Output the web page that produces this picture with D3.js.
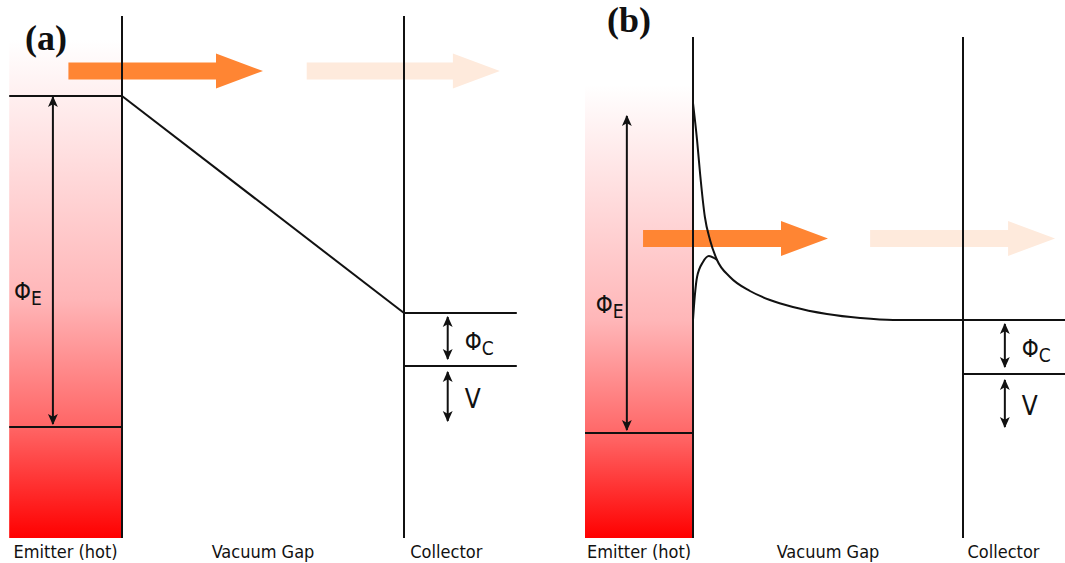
<html>
<head>
	<script src="https://d3js.org/d3.v7.min.js"></script>
	<style>
		body { margin: 0; background: #fff; }
		text { font-family: "DejaVu Sans Condensed", "DejaVu Sans", sans-serif; fill: #111; }
	</style>
</head>
<body>
	<div id="chart"></div>
</body>
<script>
var panelNames = ["(a)", "(b)"]
var regionNames = ["Emitter (hot)", "Vacuum Gap", "Collector"]
var regionPos = [-0.2, 0.5, 1.15]   // position across the device, 0 = emitter surface, 1 = collector

// energies (eV) above the emitter Fermi level
var phiE = [3.31, 3.18]
var phiC = [0.53, 0.54]
var biasV = [0.61, 0.59]

// vacuum level in the gap
var vacuumA = [[0, 3.31], [1, 1.14]]
var vacuumB = [[0, 3.30], [0.015, 2.93], [0.026, 2.60], [0.044, 2.16], [0.063, 1.93], [0.089, 1.73],
	[0.137, 1.56], [0.211, 1.42], [0.285, 1.33], [0.370, 1.26], [0.496, 1.19], [0.619, 1.15],
	[0.741, 1.13], [1.0, 1.13], [1.38, 1.13]]
// space-charge / image barrier near the emitter
var barrierB = [[0, 1.13], [0.007, 1.38], [0.015, 1.56], [0.037, 1.71], [0.059, 1.77], [0.078, 1.75], [0.089, 1.73]]

// electron flow arrows: start, end, energy
var beamsA = [[-0.19, 0.5, 3.56], [0.655, 1.34, 3.56]]
var beamsB = [[-0.185, 0.5, 1.945], [0.656, 1.341, 1.945]]

var vacuum = [vacuumA, vacuumB]
var beams = [beamsA, beamsB]

var layout = [
	{x0: 122, x1: 404, fermiY: 427, top: 16, gradTop: 40, right: 1.4, titleX: 25, titleY: 50, phiEdx: -39, phiEy: 1.27},
	{x0: 693, x1: 963, fermiY: 433, top: 37, gradTop: 85, right: 1.38, titleX: 607, titleY: 32, phiEdx: -31, phiEy: 1.2}
]
var bottom = 538

var svg = d3.select("#chart").append("svg")
	.attr("width", 1065)
	.attr("height", 563)
	.style("background", "#fff")

var defs = svg.append("defs")

defs.append("marker")
	.attr("id", "tip")
	.attr("viewBox", "0 -5 10 10")
	.attr("refX", 9)
	.attr("refY", 0)
	.attr("markerWidth", 11)
	.attr("markerHeight", 11)
	.attr("markerUnits", "userSpaceOnUse")
	.attr("orient", "auto-start-reverse")
	.append("path")
	.attr("d", "M0,-4.5L10,0L0,4.5L2.5,0Z")
	.style("fill", "#111")

function beamPath(x0, x1, yc) {
	var s = 8.5, h = 17.5, hl = 47
	return "M" + x0 + "," + (yc - s) + "H" + (x1 - hl) + "V" + (yc - h) + "L" + x1 + "," + yc +
		"L" + (x1 - hl) + "," + (yc + h) + "V" + (yc + s) + "H" + x0 + "Z"
}

function hline(g, xa, xb, yy) {
	g.append("line")
		.attr("x1", xa).attr("x2", xb)
		.attr("y1", yy).attr("y2", yy)
		.style("stroke", "#111")
		.style("stroke-width", 2)
}

function dblArrow(g, xx, ya, yb) {
	g.append("line")
		.attr("x1", xx).attr("x2", xx)
		.attr("y1", ya).attr("y2", yb)
		.attr("marker-start", "url(#tip)")
		.attr("marker-end", "url(#tip)")
		.style("stroke", "#111")
		.style("stroke-width", 2)
}

function phiLabel(g, xx, yy, sub) {
	var t = g.append("text").attr("x", xx).attr("y", yy)
	t.append("tspan").style("font-size", "24px").text("\u03A6")
	t.append("tspan").style("font-size", "19px").attr("dy", 5).text(sub)
}

layout.forEach(function(L, i) {
	var x = d3.scaleLinear().domain([0, 1]).range([L.x0, L.x1])
	var y = d3.scaleLinear().domain([0, 1]).range([L.fermiY, L.fermiY - 100])
	var g = svg.append("g")

	var grad = defs.append("linearGradient")
		.attr("id", "grad" + i)
		.attr("gradientUnits", "userSpaceOnUse")
		.attr("x1", 0).attr("x2", 0)
		.attr("y1", L.gradTop).attr("y2", bottom)
	grad.append("stop").attr("offset", 0).attr("stop-color", "#ffffff")
	grad.append("stop").attr("offset", 0.52).attr("stop-color", "#ffb6b8")
	grad.append("stop").attr("offset", 0.78).attr("stop-color", "#ff6464")
	grad.append("stop").attr("offset", 1).attr("stop-color", "#ff0000")

	// emitter body
	g.append("rect")
		.attr("x", x(-0.4))
		.attr("y", L.gradTop)
		.attr("width", x(0) - x(-0.4))
		.attr("height", bottom - L.gradTop)
		.style("fill", "url(#grad" + i + ")")

	// electron flow
	g.selectAll(".beam")
		.data(beams[i])
		.enter()
		.append("path")
		.attr("class", "beam")
		.attr("d", function(d) { return beamPath(x(d[0]), x(d[1]), y(d[2])) })
		.style("fill", function(d, j) { return j == 0 ? "#ff8533" : "#feeadc" })

	// emitter Fermi level, and vacuum level in panel a
	hline(g, x(-0.4), x(0), y(0))
	if (i == 0) hline(g, x(-0.4), x(0), y(phiE[i]))

	// electrode surfaces
	g.selectAll(".wall")
		.data([0, 1])
		.enter()
		.append("line")
		.attr("class", "wall")
		.attr("x1", function(d) { return x(d) })
		.attr("x2", function(d) { return x(d) })
		.attr("y1", L.top)
		.attr("y2", bottom)
		.style("stroke", "#111")
		.style("stroke-width", 2)

	// vacuum level
	var line = d3.line()
		.x(function(d) { return x(d[0]) })
		.y(function(d) { return y(d[1]) })
		.curve(i == 0 ? d3.curveLinear : d3.curveMonotoneX)
	g.append("path")
		.attr("d", line(vacuum[i]))
		.style("fill", "none")
		.style("stroke", "#111")
		.style("stroke-width", 2)
	if (i == 1) {
		g.append("path")
			.attr("d", line(barrierB))
			.style("fill", "none")
			.style("stroke", "#111")
			.style("stroke-width", 2)
	}

	// collector levels
	var cVac = biasV[i] + phiC[i]
	hline(g, x(1), x(L.right), y(cVac))
	hline(g, x(1), x(L.right), y(biasV[i]))

	// work function and bias arrows
	dblArrow(g, x(-0.245), y(phiE[i]) + 1, y(0) - 3)
	dblArrow(g, x(1.155), y(cVac) + 4, y(biasV[i]) - 7)
	dblArrow(g, x(1.155), y(biasV[i]) + 6, y(0) - 6)

	phiLabel(g, x(-0.245) + L.phiEdx, y(L.phiEy), "E")
	phiLabel(g, x(1.155) + 17, (y(cVac) + y(biasV[i])) / 2 + 10, "C")
	g.append("text")
		.attr("x", x(1.155) + 17)
		.attr("y", (y(biasV[i]) + y(0)) / 2 + 11.5)
		.style("font-size", "26px")
		.text("V")

	// region names
	g.selectAll(".region")
		.data(regionNames)
		.enter()
		.append("text")
		.attr("class", "region")
		.attr("x", function(d, j) { return x(regionPos[j]) })
		.attr("y", 558)
		.attr("text-anchor", "middle")
		.style("font-size", "18px")
		.text(function(d) { return d })

	// panel title
	g.append("text")
		.attr("x", L.titleX)
		.attr("y", L.titleY)
		.style("font-family", "'Liberation Serif', 'Times New Roman', serif")
		.style("font-weight", "bold")
		.style("font-size", "36px")
		.text(panelNames[i])
})
</script>
</html>
